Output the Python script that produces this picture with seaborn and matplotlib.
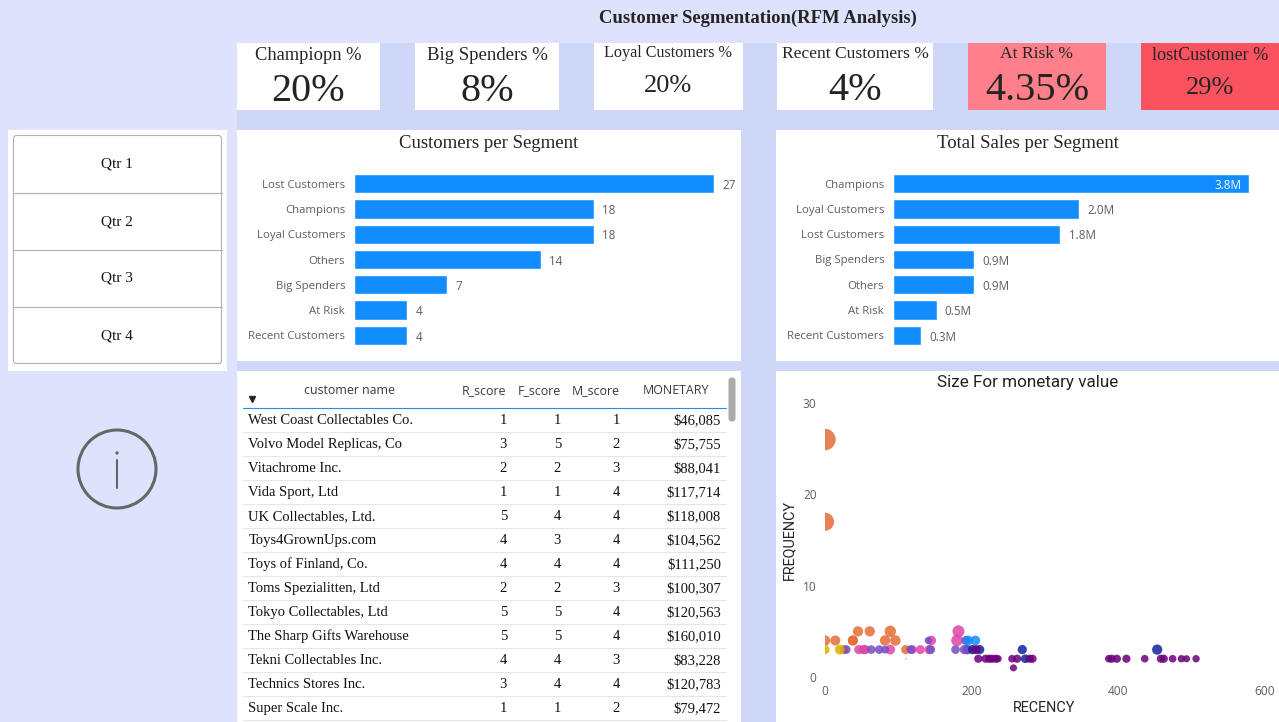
"""
Customer segmentation (RFM) dashboard, rebuilt with seaborn
"""
import matplotlib
matplotlib.use('Agg')
import matplotlib.pyplot as plt
from matplotlib.patches import Circle, FancyBboxPatch, Rectangle
import pandas as pd
import seaborn as sns

W, H = 1279, 722
SERIF = 'Liberation Serif'
SANS = 'Open Sans'
GREY = '#605E5C'
BAR_COLOR = '#118DFF'

# KPI cards
card_titles = ['Champiopn %', 'Big Spenders %', 'Loyal Customers %',
               'Recent Customers %', 'At Risk %', 'lostCustomer %']
card_values = ['20%', '8%', '20%', '4%', '4.35%', '29%']

quarters = ['Qtr 1', 'Qtr 2', 'Qtr 3', 'Qtr 4']

# Bar charts
count_segments = ['Lost Customers', 'Champions', 'Loyal Customers', 'Others',
                  'Big Spenders', 'At Risk', 'Recent Customers']
count_values = [27, 18, 18, 14, 7, 4, 4]
sales_segments = ['Champions', 'Loyal Customers', 'Lost Customers', 'Big Spenders',
                  'Others', 'At Risk', 'Recent Customers']
sales_values = [3.80, 1.99, 1.79, 0.87, 0.87, 0.47, 0.30]

# Table
table_headers = ['customer name', 'R_score', 'F_score', 'M_score', 'MONETARY']
customer_names = ['West Coast Collectables Co.', 'Volvo Model Replicas, Co', 'Vitachrome Inc.',
                  'Vida Sport, Ltd', 'UK Collectables, Ltd.', 'Toys4GrownUps.com',
                  'Toys of Finland, Co.', 'Toms Spezialitten, Ltd', 'Tokyo Collectables, Ltd',
                  'The Sharp Gifts Warehouse', 'Tekni Collectables Inc.', 'Technics Stores Inc.',
                  'Super Scale Inc.']
r_scores = [1, 3, 2, 1, 5, 4, 4, 2, 5, 5, 4, 3, 1]
f_scores = [1, 5, 2, 1, 4, 3, 4, 2, 5, 5, 4, 4, 1]
m_scores = [1, 2, 3, 4, 4, 4, 4, 3, 4, 4, 3, 4, 2]
monetary_labels = ['$46,085', '$75,755', '$88,041', '$117,714', '$118,008', '$104,562', '$111,250',
                   '$100,307', '$120,563', '$160,010', '$83,228', '$120,783', '$79,472']

# Scatter, one group of lists per colour (monetary in thousands)
orange_recency = [0, 0, 45, 61, 89, 0, 14, 38, 38, 82, 96, 26, 110]
orange_frequency = [26, 17, 5, 5, 5, 4, 4, 4, 4, 4, 4, 3, 3]
orange_monetary = [912, 654, 210, 210, 260, 215, 200, 200, 200, 220, 220, 165, 165]
pink_recency = [182, 145, 180, 46, 52, 55, 89, 119, 130, 142, 194]
pink_frequency = [5, 4, 4, 3, 3, 3, 3, 3, 3, 3, 3]
pink_monetary = [290, 180, 265, 165, 165, 165, 190, 160, 160, 170, 170]
violet_recency = [141, 192, 29, 63, 74, 82, 117, 144, 178, 190, 194]
violet_frequency = [4, 4, 3, 3, 3, 3, 3, 3, 3, 3, 3]
violet_monetary = [110, 160, 150, 150, 150, 125, 150, 160, 150, 170, 170]
blue_recency = [195, 205]
blue_frequency = [4, 4]
blue_monetary = [190, 190]
navy_recency = [201, 211, 269, 453, 273]
navy_frequency = [3, 3, 3, 3, 2]
navy_monetary = [170, 170, 170, 210, 150]
purple_recency = [206, 209, 219, 224, 228, 233, 236, 255, 262, 279, 283, 387, 391, 398, 411, 436,
                  458, 462, 474, 486, 493, 506, 257]
purple_frequency = [3, 2, 2, 2, 2, 2, 2, 2, 2, 2, 2, 2, 2, 2, 2, 2, 2, 2, 2, 2, 2, 2, 1]
purple_monetary = [160, 135, 135, 135, 135, 135, 110, 115, 135, 135, 135, 115, 135, 135, 135, 115,
                   135, 135, 115, 110, 100, 110, 100]
yellow_recency = [0, 20, 111]
yellow_frequency = [3, 3, 2]
yellow_monetary = [165, 190, 5]

scatter_groups = {
    'Champions': (orange_recency, orange_frequency, orange_monetary),
    'Loyal Customers': (pink_recency, pink_frequency, pink_monetary),
    'Others': (violet_recency, violet_frequency, violet_monetary),
    'Big Spenders': (blue_recency, blue_frequency, blue_monetary),
    'At Risk': (navy_recency, navy_frequency, navy_monetary),
    'Lost Customers': (purple_recency, purple_frequency, purple_monetary),
    'Recent Customers': (yellow_recency, yellow_frequency, yellow_monetary),
}
scatter_palette = {'Champions': '#E66C37', 'Loyal Customers': '#E044A7', 'Others': '#744EC2',
                   'Big Spenders': '#118DFF', 'At Risk': '#12239E', 'Lost Customers': '#6B007B',
                   'Recent Customers': '#D9B300'}


def px_axes(fig, left, top, right, bottom, **kwargs):
    """Axes placed with screenshot pixel coordinates"""
    return fig.add_axes([left / W, 1 - bottom / H, (right - left) / W, (bottom - top) / H], **kwargs)


def draw_background(ax):
    ax.add_patch(Rectangle((237, 43), W - 237, H - 43, color='#CFD7F9', lw=0))
    card_boxes = [(237, 380, 'white'), (415, 559, 'white'), (594, 743, 'white'),
                  (777, 933, 'white'), (968, 1106, '#FF7F8A'), (1141, 1279, '#FB5260')]
    for x0, x1, color in card_boxes:
        ax.add_patch(Rectangle((x0, 43), x1 - x0, 67, color=color, lw=0))
    panels = [(8, 130, 227, 371), (237, 130, 741, 361), (776, 130, 1279, 361),
              (237, 371, 741, 722), (776, 371, 1279, 722)]
    for x0, y0, x1, y1 in panels:
        ax.add_patch(Rectangle((x0, y0), x1 - x0, y1 - y0, color='white', lw=0))


def draw_cards(ax):
    ax.text(758, 23, 'Customer Segmentation(RFM Analysis)', family=SERIF, weight='bold',
            fontsize=13.4, color='#252423', ha='center', va='baseline')
    title_pos = [(308, 60, 13.3), (487, 60, 13.5), (668, 57, 11.6), (855, 58, 12.6), (1037, 58, 12.6), (1210, 60, 13.1)]
    value_pos = [(308, 101, 29), (487, 101, 29), (668, 92, 19), (855, 100, 29), (1037, 100, 29), (1210, 94, 19)]
    for title, value, tp, vp in zip(card_titles, card_values, title_pos, value_pos):
        ax.text(tp[0], tp[1], title, family=SERIF, fontsize=tp[2], color='#252423', ha='center', va='baseline')
        ax.text(vp[0], vp[1], value, family=SERIF, fontsize=vp[2], color='#252423', ha='center', va='baseline')


def draw_slicer(ax):
    ax.add_patch(FancyBboxPatch((13.5, 135.5), 208, 228, boxstyle='round,pad=0,rounding_size=3',
                                fc='white', ec='#B0B0B0', lw=0.8))
    for i, label in enumerate(quarters):
        ax.text(117, 168 + i * 57, label, family=SERIF, fontsize=11, color='#111111', ha='center', va='baseline')
        if i:
            ax.plot([13.5, 221.5], [192.5 + (i - 1) * 57] * 2, color='#B0B0B0', lw=0.8)
    # info icon
    ax.add_patch(Circle((117, 469), 39, fc='none', ec='#666666', lw=2.2))
    ax.plot([117, 117], [460, 488], color='#666666', lw=1.5)
    ax.add_patch(Circle((117, 453), 1.7, fc='#666666', lw=0))


def draw_table(ax):
    header_x = [349, 484, 539, 596, 676]
    for label, x in zip(table_headers, header_x):
        ax.text(x, 394, label, family=SANS, fontsize=8.9, color='#3b3a39', ha='center', va='baseline')
    ax.plot([252], [398.5], marker='v', color='#252423', ms=3.8, clip_on=False)
    ax.plot([243, 726], [407.5, 407.5], color='#2A8AE6', lw=0.8)
    for i, name in enumerate(customer_names):
        y = 424 + i * 24
        ax.text(248.5, y, name, family=SERIF, fontsize=10.5, color='#111111', ha='left', va='baseline')
        cells = [(r_scores[i], 507), (f_scores[i], 561), (m_scores[i], 620), (monetary_labels[i], 721)]
        for value, x in cells:
            ax.text(x, y, str(value), family=SERIF, fontsize=10.5, color='#111111', ha='right', va='baseline')
        ax.plot([243, 726], [y + 7.5, y + 7.5], color='#E6E6E6', lw=0.8)
    ax.add_patch(FancyBboxPatch((728.5, 377.5), 7, 44, boxstyle='round,pad=0,rounding_size=3',
                                fc='#ABABAB', lw=0))


def draw_bars(fig, left, right, top, categories, values, xmax, title, title_x, fmt, inside_first=False):
    ax = px_axes(fig, left, top, right, top + 177)
    ax.patch.set_alpha(0)
    data = pd.DataFrame({'segment': categories, 'value': values})
    sns.barplot(data=data, y='segment', x='value', color=BAR_COLOR, width=0.76, saturation=1, ax=ax)
    ax.set_xlim(0, xmax)
    ax.set_xlabel('')
    ax.set_ylabel('')
    ax.set_xticks([])
    ax.tick_params(axis='y', length=0, pad=6, labelsize=8.2, labelcolor=GREY)
    for label in ax.get_yticklabels():
        label.set_family(SANS)
    sns.despine(ax=ax, left=True, bottom=True)
    labels = ax.bar_label(ax.containers[0], fmt=fmt, padding=6, fontsize=8.4, color=GREY, family=SANS)
    for label in labels:
        label.set_position((6, -1.2))
    # the longest sales bar carries its label inside
    if inside_first:
        labels[0].set_color('white')
        labels[0].set_ha('right')
        labels[0].set_position((-5, -1.2))
    fig.text(title_x / W, 1 - 143 / H, title, family=SERIF, fontsize=13.5, color='#252423', ha='center', va='center')
    return ax


def draw_scatter(fig):
    frames = []
    for segment, (recency, frequency, monetary) in scatter_groups.items():
        frames.append(pd.DataFrame({'recency': recency, 'frequency': frequency,
                                    'monetary': monetary, 'segment': segment}))
    data = pd.concat(frames, ignore_index=True)

    ax = px_axes(fig, 825, 403, 1265, 677)
    ax.patch.set_alpha(0)
    sns.scatterplot(data=data, x='recency', y='frequency', hue='segment', palette=scatter_palette,
                    size='monetary', sizes=(0, 237), size_norm=(0, 912), alpha=0.85,
                    linewidth=0, legend=False, ax=ax)
    ax.set_xlim(0, 600)
    ax.set_ylim(0, 30)
    ax.set_xticks([0, 200, 400, 600])
    ax.set_yticks([0, 10, 20, 30])
    ax.tick_params(length=0, labelsize=8.6, labelcolor=GREY, pad=6)
    for label in ax.get_xticklabels() + ax.get_yticklabels():
        label.set_family(SANS)
    sns.despine(ax=ax, left=True, bottom=True)
    ax.set_xlabel('')
    ax.set_ylabel('')
    fig.text(1044 / W, 1 - 708 / H, 'RECENCY', family='Roboto', fontsize=10.4, color='#252423', ha='center', va='center')
    fig.text(789 / W, 1 - 540 / H, 'FREQUENCY', family='Roboto', fontsize=10.4, color='#252423',
             ha='center', va='center', rotation=90)
    fig.text(1028 / W, 1 - 382 / H, 'Size For monetary value', family='Roboto', fontsize=12.3,
             color='#252423', ha='center', va='center')


def main():
    sns.set_theme(style='white')
    fig = plt.figure(figsize=(W / 100, H / 100), dpi=100, facecolor='#DEE2FD')

    canvas = fig.add_axes([0, 0, 1, 1])
    canvas.set_xlim(0, W)
    canvas.set_ylim(H, 0)
    canvas.axis('off')
    draw_background(canvas)
    draw_cards(canvas)
    draw_slicer(canvas)
    draw_table(canvas)

    draw_bars(fig, 353.5, 741, 171, count_segments, count_values, 29.0,
              'Customers per Segment', 489, '%d')
    draw_bars(fig, 892.5, 1279, 171, sales_segments, sales_values, 4.125,
              'Total Sales per Segment', 1028, '%.1fM', inside_first=True)
    draw_scatter(fig)

    fig.savefig('out.png', dpi=100, facecolor=fig.get_facecolor())
    plt.close(fig)


if __name__ == "__main__":
    main()
